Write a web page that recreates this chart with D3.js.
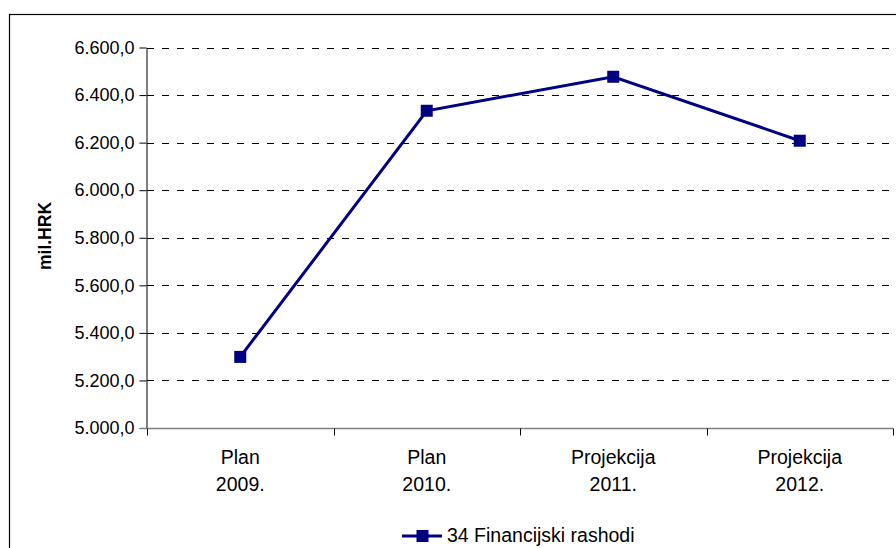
<!DOCTYPE html>
<html><head><meta charset="utf-8">
<script src="https://cdn.jsdelivr.net/npm/d3@7"></script>
<style>html,body{margin:0;padding:0;background:#fff;} svg{display:block;font-family:"Liberation Sans",Arial,sans-serif;}</style>
</head><body>
<script>
const categories = [["Plan","2009."],["Plan","2010."],["Projekcija","2011."],["Projekcija","2012."]];
const seriesName = "34 Financijski rashodi";
const values = [5299, 6334, 6477, 6208];
const yTicks = [5000,5200,5400,5600,5800,6000,6200,6400,6600];
const yTitle = "mil.HRK";

const W=896,H=548;
const svg=d3.select("body").append("svg").attr("width",W).attr("height",H);
svg.append("rect").attr("x",9.5).attr("y",14.5).attr("width",950).attr("height",600).attr("fill","none").attr("stroke","#000").attr("stroke-width",1.2);

const x0=147, x1=893, yTop=47.5, yBot=428;
const x=d3.scaleBand().domain(d3.range(categories.length)).range([x0,x1]);
const y=d3.scaleLinear().domain([5000,6600]).range([yBot,yTop]);
const fmt=v=>d3.format(",.1f")(v).replace(/,/g,"#").replace(".",",").replace(/#/g,".");

// grid
svg.append("g").selectAll("line").data(yTicks.filter(t=>t>5000)).join("line")
  .attr("x1",x0).attr("x2",x1).attr("y1",d=>Math.round(y(d))+0.5).attr("y2",d=>Math.round(y(d))+0.5)
  .attr("stroke","#000").attr("stroke-dasharray","7,8");

// y axis
const ya=svg.append("g").attr("transform",`translate(${x0-0.5},0)`)
  .call(d3.axisLeft(y).tickValues(yTicks).tickFormat(fmt).tickSize(7).tickSizeOuter(0));
ya.select(".domain").attr("stroke","#000");
ya.selectAll(".tick line").attr("stroke","#000");
ya.selectAll("text").attr("font-size",18).attr("fill","#000").attr("x",-12).attr("font-family","Liberation Sans, Arial, sans-serif");

// x axis
const xa=svg.append("g").attr("transform",`translate(0,${yBot+0.5})`);
xa.append("line").attr("x1",x0-7).attr("x2",x1).attr("stroke","#808080").attr("stroke-width",1.5);
const bounds=d3.range(categories.length+1).map(i=>i<categories.length?x(i):x1);
xa.selectAll("line.t").data(bounds).join("line").attr("class","t")
  .attr("x1",d=>Math.round(d)+0.5).attr("x2",d=>Math.round(d)+0.5).attr("y1",0).attr("y2",7).attr("stroke","#000");
const cl=xa.selectAll("text").data(categories).join("text")
  .attr("text-anchor","middle").attr("font-size",19.5).attr("fill","#000");
cl.append("tspan").attr("x",(d,i)=>x(i)+x.bandwidth()/2).attr("y",35).text(d=>d[0]);
cl.append("tspan").attr("x",(d,i)=>x(i)+x.bandwidth()/2).attr("y",62).text(d=>d[1]);

// y title
svg.append("text").attr("transform","translate(51,236) rotate(-90)").attr("text-anchor","middle")
  .attr("font-size",17.5).attr("font-weight","bold").text(yTitle);

// line
const cx=i=>x(i)+x.bandwidth()/2;
svg.append("path").datum(values).attr("fill","none").attr("stroke","#000080").attr("stroke-width",3)
  .attr("d",d3.line().x((d,i)=>cx(i)).y(d=>y(d)));
svg.append("g").selectAll("rect").data(values).join("rect")
  .attr("x",(d,i)=>cx(i)-6).attr("y",d=>y(d)-6).attr("width",12).attr("height",12).attr("fill","#000080");

// legend
const lg=svg.append("g");
lg.append("line").attr("x1",402).attr("x2",442).attr("y1",536).attr("y2",536).attr("stroke","#000080").attr("stroke-width",3);
lg.append("rect").attr("x",416.5).attr("y",530).attr("width",12).attr("height",12).attr("fill","#000080");
lg.append("text").attr("x",447).attr("y",542).attr("font-size",19.5).attr("fill","#000").text(seriesName);
</script>
</body></html>
